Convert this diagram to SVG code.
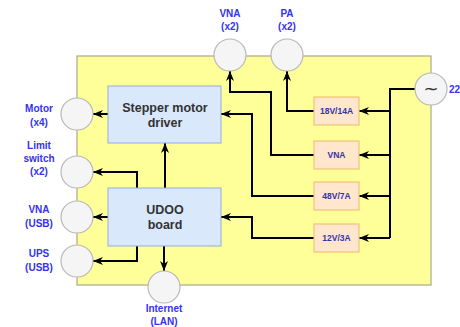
<svg xmlns="http://www.w3.org/2000/svg" width="460" height="327" viewBox="0 0 460 327">
<style>
.lbl{font-family:"Liberation Sans",Arial,sans-serif;font-weight:bold;font-size:10px;fill:#3333ee;text-anchor:middle}
.node{font-family:"Liberation Sans",Arial,sans-serif;font-weight:bold;font-size:12.5px;fill:#333;text-anchor:middle}
.pw{font-family:"Liberation Sans",Arial,sans-serif;font-weight:bold;font-size:8.5px;fill:#3333aa;text-anchor:middle}
.blue{fill:#dae8fc;stroke:#8fb0d8;stroke-width:1}
.peach{fill:#ffe6cc;stroke:#f0c27a;stroke-width:1.2}
.port{fill:#f5f5f5;stroke:#b8b8b8;stroke-width:1.2}
.wire{fill:none;stroke:#000;stroke-width:2;marker-end:url(#arr)}
</style>
<defs>
<marker id="arr" viewBox="0 0 10 8" refX="10" refY="4" markerWidth="10" markerHeight="8" markerUnits="userSpaceOnUse" orient="auto">
<path d="M0,0 L10,4 L0,8 L3,4 Z" fill="#000"/>
</marker>
</defs>
<g id="container"><rect x="77" y="56" width="354" height="229" fill="#ffff99" stroke="#a8a890" stroke-width="1.2"/></g>
<g id="connectors">
<path class="wire" d="M108,114 H93"/>
<path class="wire" d="M165,188 V143"/>
<path class="wire" d="M137,188 V172 H93"/>
<path class="wire" d="M108,217 H93"/>
<path class="wire" d="M137,246 V261 H93"/>
<path class="wire" d="M164,246 V271"/>
<path fill="none" stroke="#000" stroke-width="2" d="M415,89 H390 V238"/>
<path class="wire" d="M390,111 H359"/>
<path class="wire" d="M390,155 H359"/>
<path class="wire" d="M390,196 H359"/>
<path class="wire" d="M390,238 H359"/>
<path class="wire" d="M314,111 H287 V71"/>
<path class="wire" d="M314,155 H271 V92 H230 V71"/>
<path class="wire" d="M314,196 H252 V114 H221"/>
<path class="wire" d="M314,238 H252 V217 H221"/>
</g>
<g id="stepper"><rect class="blue" x="108" y="86" width="113" height="57"/><text class="node" x="165" y="112">Stepper motor</text><text class="node" x="165" y="127">driver</text></g>
<g id="udoo"><rect class="blue" x="108" y="188" width="113" height="58"/><text class="node" x="165" y="214">UDOO</text><text class="node" x="165" y="229">board</text></g>
<g id="p18"><rect class="peach" x="314" y="97" width="45" height="28"/><text class="pw" x="336.5" y="114">18V/14A</text></g>
<g id="pvna"><rect class="peach" x="314" y="141" width="45" height="28"/><text class="pw" x="336.5" y="158">VNA</text></g>
<g id="p48"><rect class="peach" x="314" y="182" width="45" height="28"/><text class="pw" x="336.5" y="199">48V/7A</text></g>
<g id="p12"><rect class="peach" x="314" y="224" width="45" height="28"/><text class="pw" x="336.5" y="241">12V/3A</text></g>
<g id="motor"><circle class="port" cx="77" cy="114" r="16"/><text class="lbl" x="39" y="112">Motor</text><text class="lbl" x="39" y="126">(x4)</text></g>
<g id="limit"><circle class="port" cx="77" cy="172" r="16"/><text class="lbl" x="39" y="149">Limit</text><text class="lbl" x="39" y="162">switch</text><text class="lbl" x="39" y="175">(x2)</text></g>
<g id="vnausb"><circle class="port" cx="77" cy="217" r="16"/><text class="lbl" x="39" y="213">VNA</text><text class="lbl" x="39" y="227">(USB)</text></g>
<g id="ups"><circle class="port" cx="77" cy="261" r="16"/><text class="lbl" x="39" y="257">UPS</text><text class="lbl" x="39" y="271">(USB)</text></g>
<g id="internet"><circle class="port" cx="164" cy="287" r="16"/><text class="lbl" x="164" y="312">Internet</text><text class="lbl" x="164" y="325">(LAN)</text></g>
<g id="vnax2"><circle class="port" cx="230" cy="55" r="16"/><text class="lbl" x="230" y="17">VNA</text><text class="lbl" x="230" y="30">(x2)</text></g>
<g id="pax2"><circle class="port" cx="287" cy="55" r="16"/><text class="lbl" x="287" y="17">PA</text><text class="lbl" x="287" y="30">(x2)</text></g>
<g id="ac"><circle class="port" cx="431" cy="89" r="16"/><text x="431" y="95" font-family="'DejaVu Sans',sans-serif" font-size="18" fill="#333" text-anchor="middle">~</text><text class="lbl" x="449" y="93" text-anchor="start" style="text-anchor:start">22</text></g>
</svg>
